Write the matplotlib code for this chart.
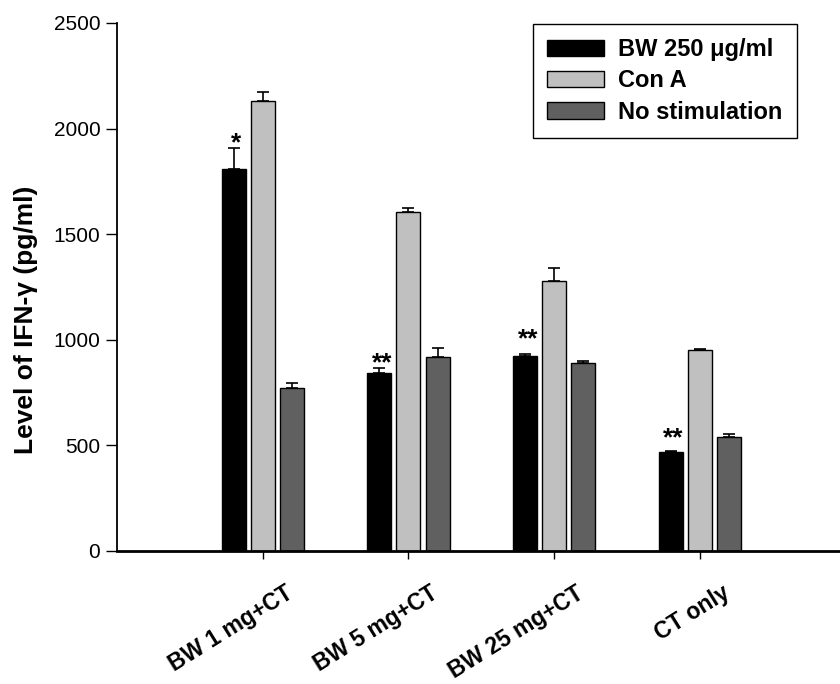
import matplotlib
matplotlib.use("Agg")
import matplotlib.pyplot as plt
import matplotlib.transforms as mtransforms
import numpy as np

plt.rcParams['font.family'] = ['Liberation Sans', 'DejaVu Sans']

# data
groups = ["BW 1 mg+CT", "BW 5 mg+CT", "BW 25 mg+CT", "CT only"]
series = ["BW 250 \u03bcg/ml", "Con A", "No stimulation"]
bw250 = [1810, 845, 923, 469]
bw250_err = [97, 23, 11, 6]
cona = [2130, 1605, 1280, 950]
cona_err = [43, 17, 58, 6]
nostim = [770, 917, 888, 541]
nostim_err = [25, 44, 12, 14]
stars = ["*", "**", "**", "**"]
star_y = [1899, 857, 970, 502]

colors = ["#000000", "#c0c0c0", "#606060"]

fig = plt.figure(figsize=(8.4, 6.84), dpi=100)
ax = fig.add_axes([117/840, 133/684, 728.5/840, 528/684])

x = np.arange(1, len(groups) + 1)
w = 0.165
off = 0.2
for i, (vals, errs) in enumerate([(bw250, bw250_err), (cona, cona_err), (nostim, nostim_err)]):
    xs = x + (i - 1) * off
    ax.bar(xs, vals, width=w, color=colors[i], edgecolor="black", linewidth=1.0,
           label=series[i], zorder=2)
    ax.errorbar(xs, vals, yerr=[np.zeros(len(errs)), errs], fmt="none", ecolor="black",
                elinewidth=1.2, capsize=4.3, capthick=1.2, zorder=1)

# significance marks
for xi, s, yv in zip(x - off + 0.02, stars, star_y):
    ax.text(xi, yv, s, ha="center", va="baseline", fontsize=19, fontweight="bold")

ax.set_xlim(0, 5)
ax.set_ylim(0, 2500)
ax.set_yticks([0, 500, 1000, 1500, 2000, 2500])
ax.set_xticks(x)
ax.set_xticklabels(groups, rotation=32, ha="right", va="center", rotation_mode="anchor",
                   fontsize=16.5, fontweight="bold")
ax.tick_params(axis="y", direction="out", length=8, width=1, labelsize=15, pad=4)
ax.tick_params(axis="x", direction="out", length=6, width=1, pad=23)
shift = mtransforms.ScaledTranslation(0.28, 0, fig.dpi_scale_trans)
for lab in ax.get_xticklabels():
    lab.set_transform(lab.get_transform() + shift)

ax.spines["top"].set_visible(False)
ax.spines["right"].set_visible(False)
ax.spines["left"].set_linewidth(1.3)
ax.spines["bottom"].set_linewidth(2)

ax.set_ylabel("Level of IFN-\u03b3 (pg/ml)", fontsize=19, fontweight="bold")
ax.yaxis.set_label_coords(-0.108, 0.4375)

leg = ax.legend(loc="upper right", bbox_to_anchor=(0.933, 0.998), borderaxespad=0,
                fancybox=False, edgecolor="black", framealpha=1,
                prop={"size": 17, "weight": "bold"}, handlelength=2.4, handleheight=0.7,
                handletextpad=0.6, labelspacing=0.35, borderpad=0.6)
leg.get_frame().set_linewidth(1.0)

fig.savefig("out.png", dpi=100)
